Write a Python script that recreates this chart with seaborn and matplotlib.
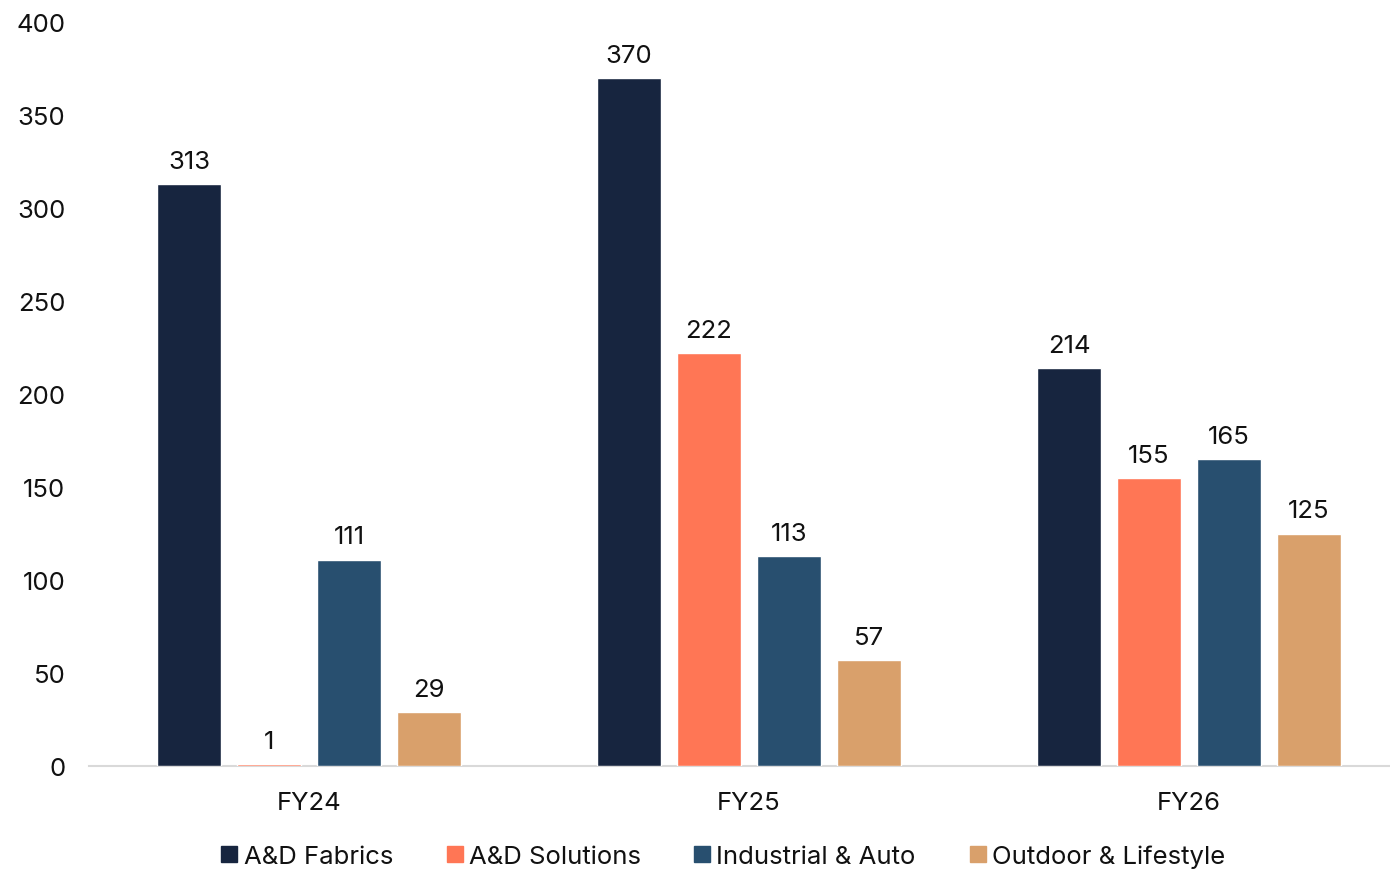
import matplotlib
matplotlib.use("Agg")
import matplotlib.pyplot as plt
import seaborn as sns
import pandas as pd

years = ["FY24", "FY25", "FY26"]
segments = ["A&D Fabrics", "A&D Solutions", "Industrial & Auto", "Outdoor & Lifestyle"]
fabrics = [313, 370, 214]
solutions = [1, 222, 155]
industrial = [111, 113, 165]
outdoor = [29, 57, 125]
colors = ["#17253F", "#FF7655", "#284F6F", "#D9A06B"]
yticks = [0, 50, 100, 150, 200, 250, 300, 350, 400]

rows = []
for seg, vals in zip(segments, [fabrics, solutions, industrial, outdoor]):
    for yr, v in zip(years, vals):
        rows.append({"year": yr, "segment": seg, "value": v})
df = pd.DataFrame(rows)

sns.set_theme(style="white")
plt.rcParams["font.family"] = ["Inter", "DejaVu Sans"]

fig = plt.figure(figsize=(13.9, 8.7), dpi=100)
ax = fig.add_axes([89 / 1390, 1 - 767 / 870, 1320 / 1390, (767 - 23) / 870])

sns.barplot(data=df, x="year", y="value", hue="segment", hue_order=segments,
            order=years, palette=colors, width=0.727, gap=0.21,
            saturation=1, ax=ax, legend=False, zorder=3)

for cont in ax.containers:
    ax.bar_label(cont, labels=[f"{v:.0f}" for v in cont.datavalues],
                 padding=8, fontsize=18.5, color="#111111")

ax.set_xlim(-0.5, 2.5)
ax.set_ylim(0, 400)
ax.set_yticks(yticks)
ax.set_yticklabels([str(t) for t in yticks])
ax.tick_params(axis="y", length=0, pad=17, labelsize=18.5, labelcolor="#111111")
ax.tick_params(axis="x", length=0, pad=18, labelsize=18.5, labelcolor="#111111")
ax.set_xlabel("")
ax.set_ylabel("")
for s in ["top", "right", "left"]:
    ax.spines[s].set_visible(False)
ax.spines["bottom"].set_color("#D9D9D9")
ax.spines["bottom"].set_linewidth(1.5)
ax.spines["bottom"].set_zorder(1)

handles = [plt.Line2D([0], [0], marker="s", linestyle="", markersize=11,
                      markerfacecolor=c, markeredgecolor=c) for c in colors]
fig.legend(handles, segments, loc="center", bbox_to_anchor=(722 / 1390, 1 - 857 / 870),
           ncol=4, frameon=False, fontsize=18.5, handletextpad=0.15,
           handlelength=0.8, columnspacing=2.0, labelcolor="#111111")

fig.savefig("out.png", dpi=100)
